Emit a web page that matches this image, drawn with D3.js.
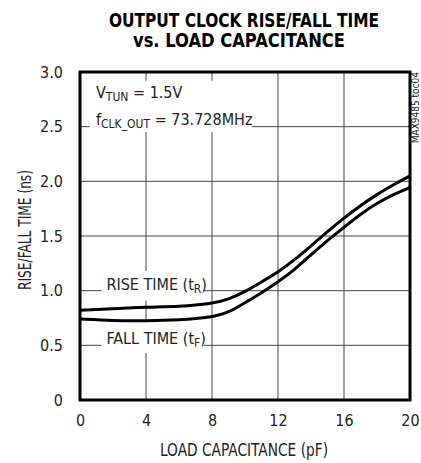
<!DOCTYPE html>
<html>
<head>
<meta charset="utf-8">
<script src="https://cdn.jsdelivr.net/npm/d3@7"></script>
<style>
  body { margin: 0; background: #fff; }
  text { font-family: "DejaVu Sans", sans-serif; font-stretch: condensed; fill: #222; }
</style>
</head>
<body>
<div id="chart"></div>
<script>
// Load capacitance (pF)
const capacitance = [0, 2, 4, 6, 8, 9, 10, 11, 12, 13, 14, 15, 16, 17, 18, 19, 20];
// Rise / fall time (ns)
const riseTime = [0.82, 0.835, 0.85, 0.855, 0.88, 0.92, 0.99, 1.08, 1.17, 1.28, 1.41, 1.54, 1.665, 1.78, 1.88, 1.97, 2.05];
const fallTime = [0.74, 0.725, 0.725, 0.73, 0.755, 0.80, 0.89, 0.98, 1.08, 1.19, 1.33, 1.46, 1.58, 1.70, 1.80, 1.88, 1.945];
const xTicks = [0, 4, 8, 12, 16, 20];
const yTicks = [0, 0.5, 1.0, 1.5, 2.0, 2.5, 3.0];

const W = 421, H = 463;
const margin = { top: 72, right: 11, bottom: 63, left: 80 };
const width = W - margin.left - margin.right;
const height = H - margin.top - margin.bottom;

const svg = d3.select("#chart").append("svg")
    .attr("width", W)
    .attr("height", H);

// Title (squeezed a bit to mimic the heavy condensed face)
const title = svg.append("g")
    .style("font-weight", "bold")
    .style("font-size", "19px");
title.append("text").attr("x", 109).attr("y", 27)
    .attr("textLength", 270).attr("lengthAdjust", "spacingAndGlyphs")
    .style("fill", "#000")
    .text("OUTPUT CLOCK RISE/FALL TIME");
title.append("text").attr("x", 133).attr("y", 47)
    .attr("textLength", 212).attr("lengthAdjust", "spacingAndGlyphs")
    .style("fill", "#000")
    .text("vs. LOAD CAPACITANCE");

const g = svg.append("g")
    .attr("transform", `translate(${margin.left},${margin.top})`);

const x = d3.scaleLinear().domain([0, 20]).range([0, width]);
const y = d3.scaleLinear().domain([0, 3]).range([height, 0]);

// Gridlines
g.selectAll("line.vgrid").data(xTicks.slice(1, -1)).enter().append("line")
    .attr("class", "vgrid")
    .attr("x1", d => x(d)).attr("x2", d => x(d))
    .attr("y1", 0).attr("y2", height)
    .attr("stroke", "#444").attr("stroke-width", 1);
g.selectAll("line.hgrid").data(yTicks.slice(1, -1)).enter().append("line")
    .attr("class", "hgrid")
    .attr("x1", 0).attr("x2", width)
    .attr("y1", d => y(d)).attr("y2", d => y(d))
    .attr("stroke", "#444").attr("stroke-width", 1);

// Axes (labels only)
const xAxis = g.append("g")
    .attr("transform", `translate(0,${height})`)
    .call(d3.axisBottom(x).tickValues(xTicks).tickSize(0).tickPadding(15).tickFormat(d3.format("d")));
const yAxis = g.append("g")
    .call(d3.axisLeft(y).tickValues(yTicks).tickSize(0).tickPadding(17)
        .tickFormat(d => d === 0 ? "0" : d3.format(".1f")(d)));
[xAxis, yAxis].forEach(a => {
    a.select(".domain").remove();
    a.selectAll("text").style("font-size", "16px")
        .style("font-family", "'DejaVu Sans', sans-serif")
        .style("font-stretch", "condensed")
        .attr("fill", "#222");
});

// White label boxes that break the grid
const boxes = [
    { x0: 0.6, x1: 10.4, y0: 2.92, y1: 2.45 },
    { x0: 1.3, x1: 7.5, y0: 1.18, y1: 0.91 },
    { x0: 1.3, x1: 7.5, y0: 0.71, y1: 0.43 }
];
g.selectAll("rect.lbl").data(boxes).enter().append("rect")
    .attr("x", d => x(d.x0)).attr("y", d => y(d.y0))
    .attr("width", d => x(d.x1) - x(d.x0))
    .attr("height", d => y(d.y1) - y(d.y0))
    .attr("fill", "#fff");

// Curves
const line = d3.line()
    .x((d, i) => x(capacitance[i]))
    .y(d => y(d))
    .curve(d3.curveBasis);
[riseTime, fallTime].forEach(s => {
    g.append("path")
        .datum(s)
        .attr("d", line)
        .attr("fill", "none")
        .attr("stroke", "#000")
        .attr("stroke-width", 3);
});

// Frame
g.append("rect")
    .attr("x", 0).attr("y", 0)
    .attr("width", width).attr("height", height)
    .attr("fill", "none")
    .attr("stroke", "#000")
    .attr("stroke-width", 3);

// Annotations
const ann = g.append("g").style("font-size", "16px");
function label(x0, y0, main, sub, tail) {
    const t = ann.append("text").attr("x", x0).attr("y", y0);
    t.append("tspan").text(main);
    t.append("tspan").attr("dy", 3).style("font-size", "12px").text(sub);
    t.append("tspan").attr("dy", -3).text(tail);
}
label(16, 26, "V", "TUN", " = 1.5V");
label(16, 53, "f", "CLK_OUT", " = 73.728MHz");
label(x(1.6), y(1.0) - 1, "RISE TIME (t", "R", ")");
label(x(1.6), y(0.5) - 1, "FALL TIME (t", "F", ")");

// Axis titles
svg.append("text")
    .attr("x", 160)
    .attr("y", 456)
    .attr("textLength", 168).attr("lengthAdjust", "spacingAndGlyphs")
    .style("font-size", "17px")
    .text("LOAD CAPACITANCE (pF)");
svg.append("text")
    .attr("transform", `translate(31,290) rotate(-90)`)
    .attr("textLength", 120).attr("lengthAdjust", "spacingAndGlyphs")
    .style("font-size", "17px")
    .text("RISE/FALL TIME (ns)");

// Part number tag
svg.append("text")
    .attr("transform", `translate(419,72) rotate(-90)`)
    .attr("text-anchor", "end")
    .style("font-size", "10px")
    .text("MAX9485 toc04");
</script>
</body>
</html>
